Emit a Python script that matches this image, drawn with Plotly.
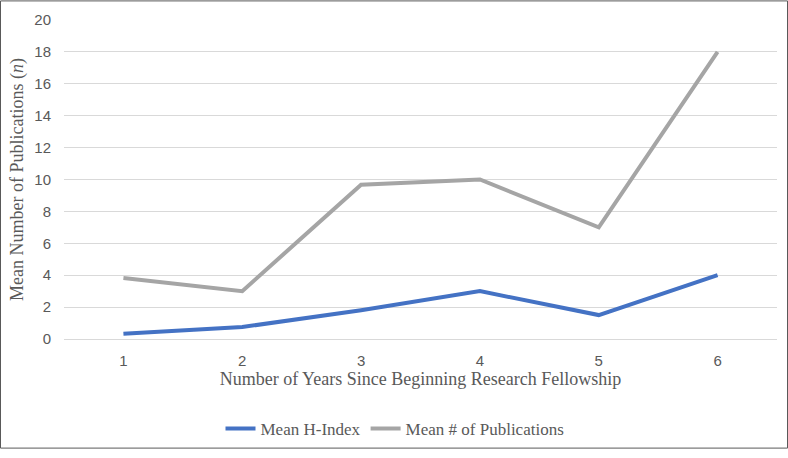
import plotly.graph_objects as go

years = [1, 2, 3, 4, 5, 6]
h_index = [0.33, 0.75, 1.8, 3.0, 1.5, 4.0]
publications = [3.83, 3.0, 9.67, 10.0, 7.0, 18.0]
y_ticks = [0, 2, 4, 6, 8, 10, 12, 14, 16, 18, 20]

W, H = 788, 458
L, R, T, B = 64, 11, 20, 112
pw, ph = W - L - R, H - T - B

fig = go.Figure()
fig.add_trace(go.Scatter(x=years, y=h_index, mode="lines", name="Mean H-Index",
                         line=dict(color="#4472C4", width=4)))
fig.add_trace(go.Scatter(x=years, y=publications, mode="lines", name="Mean # of Publications",
                         line=dict(color="#A5A5A5", width=4)))

fig.update_layout(
    width=W, height=H,
    margin=dict(l=L, r=R, t=T, b=B),
    paper_bgcolor="white", plot_bgcolor="white",
    font=dict(family="Liberation Serif", color="#595959"),
    xaxis=dict(range=[0.5, 6.5], tickvals=years, showgrid=False, zeroline=False,
               showline=False, ticks="", ticklabelstandoff=11,
               tickfont=dict(family="Liberation Sans", size=15, color="#595959"),
               title=dict(text="Number of Years Since Beginning Research Fellowship",
                          font=dict(family="Liberation Serif", size=18, color="#595959"),
                          standoff=0)),
    yaxis=dict(range=[0, 20], tickvals=y_ticks, showgrid=True, gridcolor="#D9D9D9",
               gridwidth=1, zeroline=True, zerolinecolor="#D9D9D9", zerolinewidth=1,
               showline=False, ticks="", ticklabelstandoff=12,
               tickfont=dict(family="Liberation Sans", size=15, color="#595959"),
               title=dict(text="Mean Number of Publications (<i>n</i>)",
                          font=dict(family="Liberation Serif", size=18, color="#595959"),
                          standoff=6)),
    legend=dict(orientation="h", x=(395 - L) / pw, xanchor="center",
                y=-(438 - (T + ph)) / ph, yanchor="middle",
                font=dict(family="Liberation Serif", size=17, color="#595959")),
    showlegend=True,
)

fig.add_shape(type="rect", xref="paper", yref="paper",
              x0=(0.5 - L) / pw, x1=(W - 0.5 - L) / pw,
              y0=-(H - 0.5 - (T + ph)) / ph, y1=1 + (T - 0.5) / ph,
              line=dict(color="#595959", width=1), fillcolor="rgba(0,0,0,0)", layer="above")

fig.write_html("out.html")
